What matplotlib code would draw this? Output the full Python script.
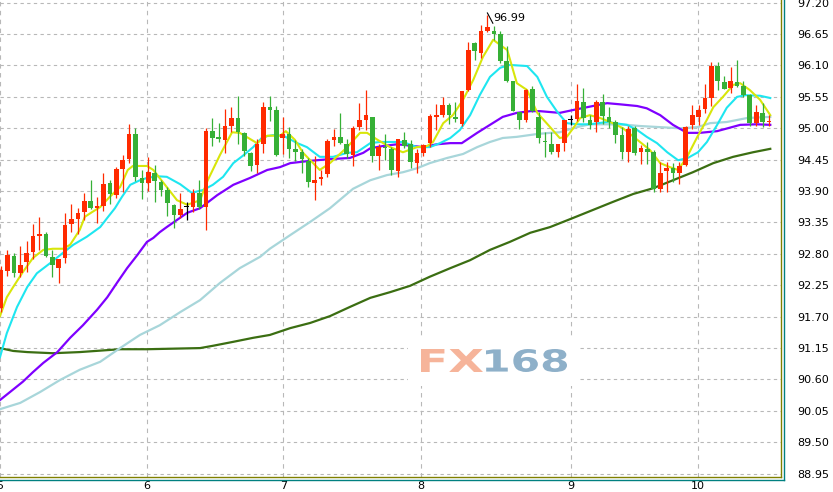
import matplotlib
matplotlib.use('Agg')
import matplotlib.pyplot as plt
from matplotlib.patches import PathPatch, Rectangle
from matplotlib.textpath import TextPath
from matplotlib.font_manager import FontProperties
from matplotlib.transforms import Affine2D
from matplotlib.lines import Line2D

# hourly candles (index 0..120)
opens = [91.85, 92.50, 92.76, 92.47, 92.66, 92.83, 93.11, 93.15, 92.75, 92.55,
         92.73, 93.32, 93.41, 93.53, 93.73, 93.60, 93.64, 94.04, 93.83, 94.29,
         94.46, 94.90, 94.13, 94.04, 94.22, 94.06, 93.92, 93.66, 93.48, 93.62,
         93.62, 93.87, 93.62, 94.95, 94.85, 94.80, 95.04, 95.18, 94.92, 94.57,
         94.36, 94.72, 95.37, 95.32, 94.83, 94.90, 94.64, 94.58, 94.43, 94.04,
         94.11, 94.20, 94.80, 94.85, 94.72, 94.53, 95.02, 95.15, 95.20, 94.51,
         94.67, 94.64, 94.25, 94.80, 94.72, 94.39, 94.57, 94.74, 95.20, 95.23,
         95.41, 95.20, 95.07, 95.67, 96.49, 96.32, 96.70, 96.70, 96.65, 96.18,
         95.83, 95.29, 95.15, 95.69, 95.20, 94.78, 94.72, 94.58, 94.74, 95.15,
         95.16, 95.46, 95.15, 95.11, 95.46, 95.20, 95.11, 94.88, 94.58, 95.00,
         94.58, 94.64, 94.58, 93.94, 94.25, 94.30, 94.22, 94.36, 95.06, 95.20,
         95.34, 95.53, 96.09, 95.81, 95.71, 95.81, 95.74, 95.58, 95.09, 95.27,
         95.11]
highs = [92.59, 92.87, 92.82, 92.94, 93.03, 93.32, 93.45, 93.18, 92.87, 92.71,
         93.52, 93.67, 93.60, 93.87, 94.09, 93.80, 94.22, 94.09, 94.32, 94.53,
         95.07, 95.00, 94.27, 94.50, 94.36, 94.09, 93.97, 93.67, 93.87, 93.71,
         93.94, 94.09, 95.00, 95.18, 95.09, 95.34, 95.37, 95.57, 94.93, 94.58,
         94.81, 95.46, 95.57, 95.39, 95.20, 95.02, 94.79, 94.64, 94.48, 94.51,
         94.27, 94.81, 94.99, 95.27, 94.81, 95.04, 95.44, 95.67, 95.20, 94.72,
         94.90, 94.67, 94.81, 94.93, 94.80, 94.64, 94.72, 95.25, 95.43, 95.55,
         95.44, 95.46, 95.65, 96.51, 96.51, 96.81, 96.99, 96.79, 96.70, 96.44,
         95.83, 95.29, 95.69, 95.74, 95.29, 94.93, 94.93, 94.72, 95.15, 95.23,
         95.78, 95.71, 95.23, 95.50, 95.60, 95.37, 95.15, 95.02, 95.04, 95.04,
         94.71, 94.76, 94.62, 94.41, 94.41, 94.39, 94.41, 95.04, 95.41, 95.41,
         95.78, 96.16, 96.16, 95.92, 96.07, 96.20, 95.83, 95.60, 95.41, 95.44,
         95.23]
lows = [91.78, 92.41, 92.40, 92.40, 92.48, 92.71, 92.87, 92.75, 92.40, 92.29,
        92.64, 93.18, 93.15, 93.39, 93.59, 93.34, 93.55, 93.67, 93.78, 93.88,
        94.39, 94.08, 93.76, 93.90, 93.71, 93.81, 93.46, 93.25, 93.43, 93.39,
        93.53, 93.59, 93.22, 94.69, 94.76, 94.57, 94.93, 94.72, 94.51, 94.25,
        94.22, 94.57, 95.13, 94.51, 94.55, 94.48, 94.43, 94.22, 93.97, 93.74,
        94.01, 94.15, 94.69, 94.72, 94.48, 94.34, 94.97, 94.97, 94.41, 94.27,
        94.44, 94.18, 94.15, 94.65, 94.30, 94.22, 94.51, 94.67, 94.97, 95.20,
        95.07, 95.11, 95.04, 95.65, 96.20, 96.23, 96.69, 96.55, 96.14, 95.81,
        95.30, 94.99, 95.11, 95.29, 94.74, 94.50, 94.55, 94.50, 94.60, 95.06,
        95.13, 95.11, 94.99, 94.93, 95.07, 95.00, 94.74, 94.46, 94.41, 94.53,
        94.37, 94.37, 93.88, 93.88, 93.88, 94.06, 94.02, 94.34, 94.99, 95.06,
        95.27, 95.39, 95.67, 95.69, 95.62, 95.72, 95.55, 95.04, 95.04, 95.02,
        95.04]
closes = [92.52, 92.78, 92.47, 92.61, 92.82, 93.11, 93.15, 92.76, 92.61, 92.71,
          93.31, 93.41, 93.52, 93.73, 93.60, 93.64, 94.02, 93.85, 94.29, 94.44,
          94.90, 94.15, 94.04, 94.23, 94.08, 93.92, 93.69, 93.48, 93.59, 93.62,
          93.87, 93.62, 94.95, 94.83, 94.81, 95.04, 95.18, 94.93, 94.60, 94.34,
          94.72, 95.37, 95.32, 94.53, 94.90, 94.64, 94.58, 94.46, 94.06, 94.09,
          94.15, 94.78, 94.85, 94.74, 94.55, 95.01, 95.15, 95.23, 94.51, 94.67,
          94.65, 94.27, 94.81, 94.69, 94.41, 94.57, 94.71, 95.22, 95.23, 95.41,
          95.23, 95.16, 95.65, 96.37, 96.35, 96.70, 96.77, 96.65, 96.18, 95.83,
          95.30, 95.15, 95.67, 95.30, 94.83, 94.76, 94.58, 94.72, 95.15, 95.15,
          95.48, 95.18, 95.06, 95.46, 95.22, 95.11, 94.88, 94.58, 94.99, 94.57,
          94.65, 94.58, 93.94, 94.22, 94.30, 94.22, 94.34, 95.02, 95.23, 95.32,
          95.53, 96.09, 95.83, 95.69, 95.83, 95.74, 95.58, 95.09, 95.29, 95.11,
          95.13]

# moving averages (x in candle index units)
ma5_x = [-0.16, 0.9, 1.9, 3.4, 5.0, 6.6, 8.1, 9.7, 10.8, 12.3, 13.1, 14.2, 15.5, 17.0, 18.6,
         19.8, 20.6, 22.8, 23.8, 25.9, 27.5, 29.1, 31.1, 32.3, 34.2, 36.1, 37.3, 40.0, 41.6, 43.6,
         44.5, 45.9, 47.2, 49.8, 51.4, 54.1, 56.1, 57.2, 58.8, 60.8, 62.8, 65.0, 66.6, 67.5, 69.1,
         70.6, 72.2, 73.8, 75.3, 76.9, 78.0, 79.1, 80.6, 82.2, 83.8, 85.8, 87.3, 88.4, 89.4, 90.5,
         92.0, 93.6, 95.2, 97.2, 99.4, 101.4, 103.0, 104.5, 105.8, 107.2, 108.8, 110.3, 111.3,
         112.8, 114.4, 115.5, 117.0, 118.6, 120.2]
ma5 = [91.71, 92.04, 92.22, 92.48, 92.73, 92.87, 92.89, 92.89, 92.96, 93.22, 93.45, 93.53, 93.62,
       93.80, 93.97, 94.27, 94.34, 94.34, 94.27, 93.97, 93.74, 93.66, 93.74, 94.09, 94.53, 94.93,
       94.92, 94.74, 94.87, 94.87, 94.95, 94.80, 94.57, 94.27, 94.39, 94.67, 94.92, 94.92, 94.80,
       94.67, 94.58, 94.67, 94.69, 94.76, 95.09, 95.23, 95.50, 95.85, 96.25, 96.55, 96.46, 96.37,
       95.79, 95.67, 95.27, 95.02, 94.83, 94.85, 95.00, 95.18, 95.23, 95.18, 95.11, 95.00, 94.80,
       94.62, 94.39, 94.32, 94.27, 94.50, 94.85, 95.15, 95.37, 95.55, 95.76, 95.79, 95.67, 95.50,
       95.23]

ma10_x = [-0.16, 0.9, 2.5, 4.1, 5.6, 7.7, 9.7, 11.3, 13.4, 15.5, 16.6, 17.8, 18.9, 20.2, 21.7,
          22.8, 24.4, 25.9, 28.0, 29.8, 31.6, 33.1, 34.7, 36.3, 37.8, 39.4, 40.9, 42.5, 44.1, 46.3,
          47.8, 49.8, 51.9, 54.1, 55.6, 57.7, 59.2, 62.8, 65.0, 67.0, 68.6, 70.2, 71.7, 73.3, 74.8,
          76.4, 78.0, 79.5, 82.2, 83.8, 85.3, 86.9, 88.4, 90.0, 92.0, 94.7, 97.8, 99.4, 100.9, 102.5,
          104.1, 105.8, 107.3, 108.9, 110.3, 111.9, 113.4, 115.0, 116.3, 118.6, 120.2]
ma10 = [90.99, 91.41, 91.87, 92.22, 92.46, 92.64, 92.82, 92.96, 93.10, 93.27, 93.43, 93.60, 93.80,
        94.01, 94.09, 94.13, 94.16, 94.15, 94.02, 93.87, 93.92, 94.01, 94.15, 94.39, 94.52, 94.67,
        94.85, 94.88, 94.87, 94.74, 94.67, 94.50, 94.50, 94.57, 94.58, 94.74, 94.76, 94.76, 94.67,
        94.67, 94.74, 94.83, 94.97, 95.23, 95.58, 95.90, 96.06, 96.11, 96.09, 95.90, 95.55, 95.29,
        95.09, 95.07, 95.07, 95.11, 95.06, 94.97, 94.85, 94.74, 94.58, 94.44, 94.48, 94.58, 94.76,
        95.06, 95.36, 95.55, 95.58, 95.57, 95.53]

ma30_x = [-0.16, 1.4, 3.4, 5.0, 6.6, 8.8, 10.8, 12.8, 15.0, 16.6, 18.1, 19.7, 21.3, 22.8, 23.8,
          24.8, 25.9, 29.1, 31.1, 33.8, 36.3, 38.9, 41.6, 43.6, 45.2, 48.3, 51.4, 54.5, 56.6, 57.7,
          59.7, 61.9, 64.4, 65.9, 68.1, 70.2, 72.0, 74.4, 76.4, 78.4, 80.6, 82.7, 84.2, 87.3, 89.4,
          91.6, 94.7, 96.7, 99.4, 100.9, 103.0, 105.0, 107.2, 109.2, 111.9, 115.5, 118.1, 120.2]
ma30 = [90.24, 90.38, 90.56, 90.73, 90.89, 91.08, 91.33, 91.55, 91.82, 92.04, 92.29, 92.55, 92.78,
        93.01, 93.08, 93.18, 93.27, 93.52, 93.60, 93.83, 94.01, 94.13, 94.27, 94.32, 94.39, 94.43,
        94.46, 94.48, 94.57, 94.65, 94.69, 94.72, 94.69, 94.67, 94.72, 94.74, 94.74, 94.92, 95.06,
        95.20, 95.27, 95.30, 95.30, 95.27, 95.32, 95.37, 95.44, 95.42, 95.39, 95.35, 95.23, 95.06,
        94.92, 94.92, 94.95, 95.06, 95.07, 95.06]

ma60_x = [-0.16, 3.0, 6.1, 9.2, 12.3, 15.5, 18.6, 21.7, 24.8, 28.0, 31.1, 34.2, 37.3, 40.5, 42.0,
          45.2, 48.3, 51.4, 55.0, 57.7, 60.3, 62.8, 65.0, 67.0, 69.7, 72.2, 74.4, 76.4, 78.4, 80.6,
          83.8, 85.8, 87.3, 90.0, 92.0, 94.7, 97.8, 99.8, 103.0, 106.1, 108.8, 110.8, 113.4, 116.6,
          120.2]
ma60 = [90.08, 90.19, 90.38, 90.59, 90.77, 90.91, 91.15, 91.38, 91.55, 91.78, 91.99, 92.29, 92.55,
        92.75, 92.89, 93.13, 93.36, 93.60, 93.94, 94.09, 94.18, 94.23, 94.30, 94.39, 94.48, 94.55,
        94.67, 94.76, 94.83, 94.85, 94.90, 94.92, 94.93, 95.02, 95.07, 95.07, 95.06, 95.04, 95.02,
        95.00, 95.02, 95.09, 95.11, 95.18, 95.20]

ma200_x = [-0.16, 1.9, 4.1, 8.1, 12.3, 18.6, 22.8, 31.1, 33.1, 36.3, 39.4, 42.0, 45.2, 48.3, 51.4,
           54.5, 57.7, 60.8, 63.9, 67.0, 70.2, 73.3, 76.4, 79.5, 82.7, 85.8, 89.4, 92.5, 95.6, 98.8,
           101.9, 105.0, 108.1, 111.3, 114.4, 117.5, 120.2]
ma200 = [91.15, 91.10, 91.08, 91.06, 91.08, 91.13, 91.13, 91.15, 91.19, 91.26, 91.33, 91.38, 91.50,
         91.59, 91.71, 91.87, 92.03, 92.13, 92.24, 92.40, 92.55, 92.69, 92.87, 93.01, 93.17, 93.27,
         93.43, 93.57, 93.71, 93.85, 93.95, 94.09, 94.23, 94.39, 94.50, 94.58, 94.64]

day_pos = [-0.16, 22.8, 44.1, 65.6, 89.1, 108.9]
day_labels = ['5', '6', '7', '8', '9', '10']
price_ticks = [97.20, 96.65, 96.10, 95.55, 95.00, 94.45, 93.90, 93.35, 92.80, 92.25,
               91.70, 91.15, 90.60, 90.05, 89.50, 88.95]

fig = plt.figure(figsize=(8.33, 4.92), dpi=100)
ax = fig.add_axes([0, 15 / 492, 781 / 833, 477 / 492])

# moving averages
ax.plot(ma200_x, ma200, color='#3b6e12', lw=1.6, zorder=2)
ax.plot(ma60_x, ma60, color='#a8d6da', lw=1.6, zorder=2)
ax.plot(ma30_x, ma30, color='#7f00ff', lw=1.6, zorder=2)
ax.plot(ma10_x, ma10, color='#1ee6f0', lw=1.5, zorder=2)
ax.plot(ma5_x, ma5, color='#d8e60a', lw=1.5, zorder=2)

# candles
idx = list(range(len(opens)))
cols = []
for o, c in zip(opens, closes):
    if c > o:
        cols.append('#ff2a00')
    elif c < o:
        cols.append('#36b036')
    else:
        cols.append('black')
ax.vlines(idx, lows, highs, colors=cols, lw=0.9, zorder=3)
bottoms = [min(o, c) for o, c in zip(opens, closes)]
heights = [max(abs(c - o), 0.02) for o, c in zip(opens, closes)]
ax.bar(idx, heights, bottom=bottoms, width=0.72, color=cols, lw=0, zorder=4)

# peak label
ax.plot([76.0, 76.85], [97.02, 96.84], color='black', lw=0.8, zorder=5)
ax.text(76.95, 96.93, '96.99', fontsize=8, va='center', ha='left', zorder=5)

ax.set_xlim(-0.156, 121.875)
ax.set_ylim(88.892, 97.247)
ax.set_yticks(price_ticks)
ax.set_yticklabels(['%.2f' % p for p in price_ticks])
ax.set_xticks(day_pos)
ax.set_xticklabels(day_labels)
ax.yaxis.tick_right()
ax.tick_params(axis='y', length=0, pad=12, labelsize=8)
ax.tick_params(axis='x', length=0, pad=3, labelsize=8)
ax.set_axisbelow(True)
ax.grid(axis='y', color='#b8b8b8', linestyle=(0, (3, 3)), lw=0.8)
ax.grid(axis='x', color='#b8b8b8', linestyle=(0, (4, 4)), lw=0.8)

for s in ['top', 'left']:
    ax.spines[s].set_visible(False)
for s in ['right', 'bottom']:
    ax.spines[s].set_color('#808000')
    ax.spines[s].set_linewidth(1)

fig.add_artist(Line2D([783.5 / 833, 783.5 / 833], [(492 - 479.5) / 492, 1],
                      color='#008080', lw=1, transform=fig.transFigure))
fig.add_artist(Line2D([0, 783.5 / 833], [(492 - 479.5) / 492, (492 - 479.5) / 492],
                      color='#008080', lw=1, transform=fig.transFigure))

# watermark
fig.add_artist(Rectangle((4.08, 1.06), 1.70, 0.48, facecolor='white', edgecolor='none',
                         transform=fig.dpi_scale_trans))
wm_font = FontProperties(family='DejaVu Sans', weight='bold')


def stamp(txt, x0, x1, top, bot, color):
    tp = TextPath((0, 0), txt, size=1, prop=wm_font)
    ext = tp.get_extents()
    tr = (Affine2D().translate(-ext.x0, -ext.y0)
          .scale((x1 - x0) / 100 / ext.width, (bot - top) / 100 / ext.height)
          .translate(x0 / 100, (492 - bot) / 100) + fig.dpi_scale_trans)
    fig.add_artist(PathPatch(tp, transform=tr, facecolor=color, edgecolor='none'))


stamp('FX', 421, 483, 349, 372, '#f6b49a')
stamp('168', 486, 567, 349, 372, '#8eb0c9')

fig.savefig('out.png', dpi=100, facecolor='white')
